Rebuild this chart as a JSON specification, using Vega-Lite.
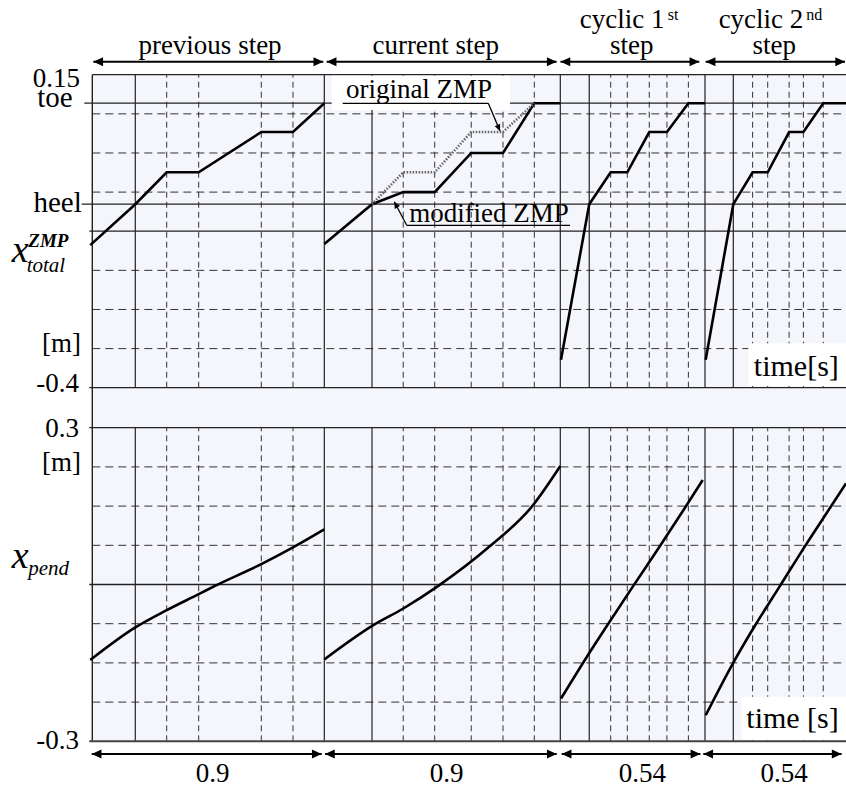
{
  "$schema": "https://vega.github.io/schema/vega-lite/v6.json",
  "width": 846,
  "height": 792,
  "padding": 0,
  "autosize": {"type": "none"},
  "background": "white",
  "config": {"view": {"stroke": null}, "font": "'Liberation Serif', 'Times New Roman', Times, 'DejaVu Serif', serif", "text": {"font": "'Liberation Serif', 'Times New Roman', Times, 'DejaVu Serif', serif"}},
  "datasets": {
    "vSolid": [{"t": 0.1668}, {"t": 0.9}, {"t": 1.082}, {"t": 1.8}, {"t": 1.908}, {"t": 2.34}, {"t": 2.447}],
    "vDashed": [{"t": 0.2886}, {"t": 0.4127}, {"t": 0.6556}, {"t": 0.7785}, {"t": 1.201}, {"t": 1.321}, {"t": 1.4603}, {"t": 1.5815}, {"t": 1.7009}, {"t": 1.988}, {"t": 2.05}, {"t": 2.132}, {"t": 2.198}, {"t": 2.278}, {"t": 2.52}, {"t": 2.577}, {"t": 2.658}, {"t": 2.712}, {"t": 2.787}],
    "topDashed": [{"v": 0.08125}, {"v": 0.0125}, {"v": -0.05625}, {"v": -0.19375}, {"v": -0.2625}, {"v": -0.33125}],
    "topSolid": [{"t": 0, "v": 0.15}, {"t": -0.031, "v": 0.1}, {"t": -0.0411, "v": -0.0775}, {"t": -0.0116, "v": -0.125}, {"t": -0.0116, "v": -0.4}],
    "botDashed": [{"v": 0.225}, {"v": 0.15}, {"v": 0.075}, {"v": -0.075}, {"v": -0.15}, {"v": -0.225}],
    "botSolid": [{"t": -0.0116, "v": 0.3}, {"t": -0.0116, "v": 0}],
    "zmp": [
      {"s": "previous", "t": -0.008, "v": -0.1495}, {"s": "previous", "t": 0.1668, "v": -0.0775}, {"s": "previous", "t": 0.2886, "v": -0.0215}, {"s": "previous", "t": 0.4127, "v": -0.0215}, {"s": "previous", "t": 0.6556, "v": 0.0493}, {"s": "previous", "t": 0.7785, "v": 0.0493}, {"s": "previous", "t": 0.9, "v": 0.1},
      {"s": "current", "t": 0.9, "v": -0.1475}, {"s": "current", "t": 1.082, "v": -0.0775}, {"s": "current", "t": 1.201, "v": -0.05625}, {"s": "current", "t": 1.321, "v": -0.05625}, {"s": "current", "t": 1.4603, "v": 0.0125}, {"s": "current", "t": 1.5815, "v": 0.0125}, {"s": "current", "t": 1.7009, "v": 0.1}, {"s": "current", "t": 1.8, "v": 0.1},
      {"s": "cyclic1", "t": 1.8026, "v": -0.351}, {"s": "cyclic1", "t": 1.908, "v": -0.0775}, {"s": "cyclic1", "t": 1.988, "v": -0.0215}, {"s": "cyclic1", "t": 2.05, "v": -0.0215}, {"s": "cyclic1", "t": 2.132, "v": 0.0493}, {"s": "cyclic1", "t": 2.198, "v": 0.0493}, {"s": "cyclic1", "t": 2.278, "v": 0.1}, {"s": "cyclic1", "t": 2.34, "v": 0.1},
      {"s": "cyclic2", "t": 2.3426, "v": -0.351}, {"s": "cyclic2", "t": 2.447, "v": -0.0775}, {"s": "cyclic2", "t": 2.52, "v": -0.0215}, {"s": "cyclic2", "t": 2.577, "v": -0.0215}, {"s": "cyclic2", "t": 2.658, "v": 0.0493}, {"s": "cyclic2", "t": 2.712, "v": 0.0493}, {"s": "cyclic2", "t": 2.787, "v": 0.1}, {"s": "cyclic2", "t": 2.873, "v": 0.1}
    ],
    "zmpOriginal": [{"t": 1.082, "v": -0.0775}, {"t": 1.201, "v": -0.0215}, {"t": 1.321, "v": -0.0215}, {"t": 1.4603, "v": 0.0493}, {"t": 1.5815, "v": 0.0493}, {"t": 1.7009, "v": 0.1}],
    "pend": [
      {"s": "previous", "t": -0.008, "v": -0.1445}, {"s": "previous", "t": 0.1668, "v": -0.0822}, {"s": "previous", "t": 0.2886, "v": -0.0491}, {"s": "previous", "t": 0.4127, "v": -0.0185}, {"s": "previous", "t": 0.476, "v": -0.0026}, {"s": "previous", "t": 0.6556, "v": 0.039}, {"s": "previous", "t": 0.7785, "v": 0.071}, {"s": "previous", "t": 0.9, "v": 0.1054},
      {"s": "current", "t": 0.9, "v": -0.1435}, {"s": "current", "t": 1.0869, "v": -0.0778}, {"s": "current", "t": 1.2013, "v": -0.0459}, {"s": "current", "t": 1.3348, "v": -0.0026}, {"s": "current", "t": 1.532, "v": 0.0735}, {"s": "current", "t": 1.691, "v": 0.1487}, {"s": "current", "t": 1.8, "v": 0.2267},
      {"s": "cyclic1", "t": 1.8026, "v": -0.2182}, {"s": "cyclic1", "t": 1.9082, "v": -0.131}, {"s": "cyclic1", "t": 1.9791, "v": -0.075}, {"s": "cyclic1", "t": 2.0724, "v": -0.0026}, {"s": "cyclic1", "t": 2.172, "v": 0.0735}, {"s": "cyclic1", "t": 2.2653, "v": 0.147}, {"s": "cyclic1", "t": 2.3313, "v": 0.1998},
      {"s": "cyclic2", "t": 2.3426, "v": -0.2502}, {"s": "cyclic2", "t": 2.441, "v": -0.155}, {"s": "cyclic2", "t": 2.5291, "v": -0.0785}, {"s": "cyclic2", "t": 2.6236, "v": -0.0026}, {"s": "cyclic2", "t": 2.7182, "v": 0.0735}, {"s": "cyclic2", "t": 2.8154, "v": 0.1487}, {"s": "cyclic2", "t": 2.873, "v": 0.1935}
    ],
    "topArrows": [{"t": 0.004, "t2": 0.896, "v": 0.1728}, {"t": 0.909, "t2": 1.786, "v": 0.1728}, {"t": 1.8007, "t2": 2.3187, "v": 0.1728}, {"t": 2.3426, "t2": 2.8695, "v": 0.1728}],
    "botArrows": [{"t": -0.0023, "t2": 0.8898, "v": -0.3243}, {"t": 0.9027, "t2": 1.7863, "v": -0.3243}, {"t": 1.8052, "t2": 2.3228, "v": -0.3243}, {"t": 2.3336, "t2": 2.8563, "v": -0.3243}],
    "leaders": [
      {"t": 0.9702, "t2": 1.5255, "v": 0.0997, "v2": 0.0997},
      {"t": 1.5255, "t2": 1.5701, "v": 0.0997, "v2": 0.0511},
      {"t": 1.2143, "t2": 1.8362, "v": -0.1146, "v2": -0.1146},
      {"t": 1.2143, "t2": 1.167, "v": -0.1146, "v2": -0.0732}
    ],
    "topBoxes": [{"t": 0.9282, "t2": 1.6082, "v": 0.088, "v2": 0.148}, {"t": 2.5038, "t2": 2.873, "v": -0.397, "v2": -0.322}],
    "topText": [
      {"label": "previous step", "t": 0.4566, "v": 0.187, "role": "head"},
      {"label": "current step", "t": 1.325, "v": 0.187, "role": "head"},
      {"label": "step", "t": 2.0664, "v": 0.187, "role": "head"},
      {"label": "step", "t": 2.6017, "v": 0.187, "role": "head"},
      {"label": "cyclic 1", "t": 2.1888, "v": 0.2315, "role": "headR"},
      {"label": "cyclic 2", "t": 2.7118, "v": 0.2315, "role": "headR"},
      {"label": "st", "t": 2.201, "v": 0.2461, "role": "sup"},
      {"label": "nd", "t": 2.7225, "v": 0.2461, "role": "sup"},
      {"label": "0.15", "t": -0.0477, "v": 0.1285, "role": "ylab"},
      {"label": "toe", "t": -0.076, "v": 0.0938, "role": "ylab2"},
      {"label": "heel", "t": -0.0411, "v": -0.0918, "role": "ylab2"},
      {"label": "[m]", "t": -0.0438, "v": -0.3373, "role": "ylab"},
      {"label": "-0.4", "t": -0.0516, "v": -0.407, "role": "ylab"},
      {"label": "original ZMP", "t": 1.2612, "v": 0.1099, "role": "note"},
      {"label": "modified ZMP", "t": 1.5281, "v": -0.1083, "role": "note"},
      {"label": "time[s]", "t": 2.6853, "v": -0.3794, "role": "unit"},
      {"label": "x", "t": -0.3126, "v": -0.1791, "role": "var"},
      {"label": "ZMP", "t": -0.2483, "v": -0.1522, "role": "varsup"},
      {"label": "total", "t": -0.2545, "v": -0.1962, "role": "varsub"}
    ],
    "botText": [
      {"label": "0.3", "t": -0.0516, "v": 0.2828, "role": "ylab"},
      {"label": "[m]", "t": -0.0438, "v": 0.2171, "role": "ylab"},
      {"label": "-0.3", "t": -0.0516, "v": -0.314, "role": "ylab"},
      {"label": "x", "t": -0.3126, "v": 0.0308, "role": "var"},
      {"label": "pend", "t": -0.2483, "v": 0.0179, "role": "varsub"},
      {"label": "0.9", "t": 0.4663, "v": -0.3773, "role": "head"},
      {"label": "0.9", "t": 1.3668, "v": -0.3773, "role": "head"},
      {"label": "0.54", "t": 2.1067, "v": -0.3773, "role": "head"},
      {"label": "0.54", "t": 2.6395, "v": -0.3773, "role": "head"},
      {"label": "time [s]", "t": 2.6709, "v": -0.2751, "role": "unit"}
    ]
  },
  "layer": [
    {
      "layer": [
        {"data": {"values": [{}]}, "mark": {"type": "rect", "fill": "#f5f6fc"},
         "encoding": {
           "x": {"datum": 0, "type": "quantitative", "axis": null, "scale": {"type": "linear", "domain": [-0.358, 0, 0.9, 1.8, 2.34, 2.873], "range": [0, 92.3, 324.3, 560.3, 705, 846], "nice": false, "zero": false}},
           "x2": {"datum": 2.873},
           "y": {"datum": -0.4703, "type": "quantitative", "axis": null, "scale": {"domain": [-1.1104, 0.2813], "range": [792, 0], "nice": false, "zero": false}},
           "y2": {"datum": 0.15}}},
        {"data": {"name": "topDashed"}, "mark": {"type": "rule", "color": "#333", "strokeWidth": 1, "strokeDash": [8, 5]},
         "encoding": {"x": {"datum": 0, "type": "quantitative"}, "x2": {"datum": 2.873}, "y": {"field": "v", "type": "quantitative"}}},
        {"data": {"name": "vDashed"}, "mark": {"type": "rule", "color": "#333", "strokeWidth": 1, "strokeDash": [6, 4]},
         "encoding": {"x": {"field": "t", "type": "quantitative"}, "y": {"datum": -0.4, "type": "quantitative"}, "y2": {"datum": 0.15}}},
        {"data": {"name": "vSolid"}, "mark": {"type": "rule", "color": "#222", "strokeWidth": 1.2},
         "encoding": {"x": {"field": "t", "type": "quantitative"}, "y": {"datum": -0.4, "type": "quantitative"}, "y2": {"datum": 0.15}}},
        {"data": {"name": "topSolid"}, "mark": {"type": "rule", "color": "#222", "strokeWidth": 1.3},
         "encoding": {"x": {"field": "t", "type": "quantitative"}, "x2": {"datum": 2.873}, "y": {"field": "v", "type": "quantitative"}}},
        {"data": {"values": [{}]}, "mark": {"type": "rule", "color": "#222", "strokeWidth": 1.4},
         "encoding": {"x": {"datum": 0, "type": "quantitative"}, "y": {"datum": -0.4703, "type": "quantitative"}, "y2": {"datum": 0.15}}},
        {"data": {"name": "topBoxes"}, "mark": {"type": "rect", "fill": "white"},
         "encoding": {"x": {"field": "t", "type": "quantitative"}, "x2": {"field": "t2"}, "y": {"field": "v", "type": "quantitative"}, "y2": {"field": "v2"}}},
        {"data": {"name": "zmp"}, "mark": {"type": "line", "color": "black", "strokeWidth": 2.6},
         "encoding": {"x": {"field": "t", "type": "quantitative"}, "y": {"field": "v", "type": "quantitative"}, "detail": {"field": "s"}}},
        {"data": {"name": "zmpOriginal"}, "mark": {"type": "line", "color": "#666", "strokeWidth": 2.6, "strokeDash": [1.5, 1.5]},
         "encoding": {"x": {"field": "t", "type": "quantitative"}, "y": {"field": "v", "type": "quantitative"}}},
        {"data": {"name": "leaders"}, "mark": {"type": "rule", "color": "black", "strokeWidth": 1.3},
         "encoding": {"x": {"field": "t", "type": "quantitative"}, "x2": {"field": "t2"}, "y": {"field": "v", "type": "quantitative"}, "y2": {"field": "v2"}}},
        {"data": {"values": [{"t": 1.5701, "v": 0.0511}]}, "mark": {"type": "point", "filled": true, "color": "black", "opacity": 1, "size": 170, "angle": 67, "shape": "M0,0L-1,-0.45L-1,0.45Z"},
         "encoding": {"x": {"field": "t", "type": "quantitative"}, "y": {"field": "v", "type": "quantitative"}}},
        {"data": {"values": [{"t": 1.167, "v": -0.0732}]}, "mark": {"type": "point", "filled": true, "color": "black", "opacity": 1, "size": 170, "angle": 242, "shape": "M0,0L-1,-0.45L-1,0.45Z"},
         "encoding": {"x": {"field": "t", "type": "quantitative"}, "y": {"field": "v", "type": "quantitative"}}},
        {"data": {"name": "topArrows"}, "mark": {"type": "rule", "color": "black", "strokeWidth": 2},
         "encoding": {"x": {"field": "t", "type": "quantitative"}, "x2": {"field": "t2"}, "y": {"field": "v", "type": "quantitative"}}},
        {"data": {"name": "topArrows"}, "transform": [{"fold": ["t", "t2"], "as": ["end", "tt"]}],
         "mark": {"type": "point", "filled": true, "color": "black", "opacity": 1, "size": 380},
         "encoding": {"x": {"field": "tt", "type": "quantitative"}, "y": {"field": "v", "type": "quantitative"},
           "shape": {"field": "end", "type": "nominal", "legend": null, "scale": {"domain": ["t", "t2"], "range": ["M0,0L1,-0.45L1,0.45Z", "M0,0L-1,-0.45L-1,0.45Z"]}}}},
        {"data": {"name": "topText"}, "transform": [{"filter": "datum.role === 'head' || datum.role === 'note'"}],
         "mark": {"type": "text", "fontSize": 27, "align": "center", "baseline": "alphabetic", "color": "black"},
         "encoding": {"x": {"field": "t", "type": "quantitative"}, "y": {"field": "v", "type": "quantitative"}, "text": {"field": "label"}}},
        {"data": {"name": "topText"}, "transform": [{"filter": "datum.role === 'headR' || datum.role === 'ylab'"}],
         "mark": {"type": "text", "fontSize": 27, "align": "right", "baseline": "alphabetic", "color": "black"},
         "encoding": {"x": {"field": "t", "type": "quantitative"}, "y": {"field": "v", "type": "quantitative"}, "text": {"field": "label"}}},
        {"data": {"name": "topText"}, "transform": [{"filter": "datum.role === 'ylab2'"}],
         "mark": {"type": "text", "fontSize": 29, "align": "right", "baseline": "alphabetic", "color": "black"},
         "encoding": {"x": {"field": "t", "type": "quantitative"}, "y": {"field": "v", "type": "quantitative"}, "text": {"field": "label"}}},
        {"data": {"name": "topText"}, "transform": [{"filter": "datum.role === 'sup'"}],
         "mark": {"type": "text", "fontSize": 16, "align": "left", "baseline": "alphabetic", "color": "black"},
         "encoding": {"x": {"field": "t", "type": "quantitative"}, "y": {"field": "v", "type": "quantitative"}, "text": {"field": "label"}}},
        {"data": {"name": "topText"}, "transform": [{"filter": "datum.role === 'unit'"}],
         "mark": {"type": "text", "fontSize": 30, "align": "center", "baseline": "alphabetic", "color": "black"},
         "encoding": {"x": {"field": "t", "type": "quantitative"}, "y": {"field": "v", "type": "quantitative"}, "text": {"field": "label"}}},
        {"data": {"name": "topText"}, "transform": [{"filter": "datum.role === 'var'"}],
         "mark": {"type": "text", "fontSize": 38, "fontStyle": "italic", "align": "left", "baseline": "alphabetic", "color": "black"},
         "encoding": {"x": {"field": "t", "type": "quantitative"}, "y": {"field": "v", "type": "quantitative"}, "text": {"field": "label"}}},
        {"data": {"name": "topText"}, "transform": [{"filter": "datum.role === 'varsub'"}],
         "mark": {"type": "text", "fontSize": 21, "fontStyle": "italic", "align": "left", "baseline": "alphabetic", "color": "black"},
         "encoding": {"x": {"field": "t", "type": "quantitative"}, "y": {"field": "v", "type": "quantitative"}, "text": {"field": "label"}}},
        {"data": {"name": "topText"}, "transform": [{"filter": "datum.role === 'varsup'"}],
         "mark": {"type": "text", "fontSize": 19, "fontStyle": "italic", "fontWeight": "bold", "align": "left", "baseline": "alphabetic", "color": "black"},
         "encoding": {"x": {"field": "t", "type": "quantitative"}, "y": {"field": "v", "type": "quantitative"}, "text": {"field": "label"}}}
      ]
    },
    {
      "layer": [
        {"data": {"values": [{}]}, "mark": {"type": "rect", "fill": "#f5f6fc"},
         "encoding": {
           "x": {"datum": 0, "type": "quantitative"},
           "x2": {"datum": 2.873},
           "y": {"datum": -0.3, "type": "quantitative", "axis": null, "scale": {"domain": [-0.397, 1.1183], "range": [792, 0], "nice": false, "zero": false}},
           "y2": {"datum": 0.3}}},
        {"data": {"name": "botDashed"}, "mark": {"type": "rule", "color": "#333", "strokeWidth": 1, "strokeDash": [8, 5]},
         "encoding": {"x": {"datum": 0, "type": "quantitative"}, "x2": {"datum": 2.873}, "y": {"field": "v", "type": "quantitative"}}},
        {"data": {"name": "vDashed"}, "mark": {"type": "rule", "color": "#333", "strokeWidth": 1, "strokeDash": [6, 4]},
         "encoding": {"x": {"field": "t", "type": "quantitative"}, "y": {"datum": -0.3, "type": "quantitative"}, "y2": {"datum": 0.3}}},
        {"data": {"name": "vSolid"}, "mark": {"type": "rule", "color": "#222", "strokeWidth": 1.2},
         "encoding": {"x": {"field": "t", "type": "quantitative"}, "y": {"datum": -0.3, "type": "quantitative"}, "y2": {"datum": 0.3}}},
        {"data": {"name": "botSolid"}, "mark": {"type": "rule", "color": "#222", "strokeWidth": 1.3},
         "encoding": {"x": {"field": "t", "type": "quantitative"}, "x2": {"datum": 2.873}, "y": {"field": "v", "type": "quantitative"}}},
        {"data": {"values": [{}]}, "mark": {"type": "rule", "color": "#222", "strokeWidth": 1.4},
         "encoding": {"x": {"datum": 0, "type": "quantitative"}, "y": {"datum": -0.3, "type": "quantitative"}, "y2": {"datum": 0.3}}},
        {"data": {"values": [{"t": 2.4788, "t2": 2.873, "v": -0.298, "v2": -0.2146}]}, "mark": {"type": "rect", "fill": "white"},
         "encoding": {"x": {"field": "t", "type": "quantitative"}, "x2": {"field": "t2"}, "y": {"field": "v", "type": "quantitative"}, "y2": {"field": "v2"}}},
        {"data": {"values": [{}]}, "mark": {"type": "rule", "color": "#444", "strokeWidth": 2},
         "encoding": {"x": {"datum": -0.0116, "type": "quantitative"}, "x2": {"datum": 2.873}, "y": {"datum": -0.3, "type": "quantitative"}}},
        {"data": {"name": "pend"}, "mark": {"type": "line", "color": "black", "strokeWidth": 2.6, "interpolate": "monotone"},
         "encoding": {"x": {"field": "t", "type": "quantitative"}, "y": {"field": "v", "type": "quantitative"}, "detail": {"field": "s"}}},
        {"data": {"name": "botArrows"}, "mark": {"type": "rule", "color": "black", "strokeWidth": 2},
         "encoding": {"x": {"field": "t", "type": "quantitative"}, "x2": {"field": "t2"}, "y": {"field": "v", "type": "quantitative"}}},
        {"data": {"name": "botArrows"}, "transform": [{"fold": ["t", "t2"], "as": ["end", "tt"]}],
         "mark": {"type": "point", "filled": true, "color": "black", "opacity": 1, "size": 380},
         "encoding": {"x": {"field": "tt", "type": "quantitative"}, "y": {"field": "v", "type": "quantitative"},
           "shape": {"field": "end", "type": "nominal", "legend": null, "scale": {"domain": ["t", "t2"], "range": ["M0,0L1,-0.45L1,0.45Z", "M0,0L-1,-0.45L-1,0.45Z"]}}}},
        {"data": {"name": "botText"}, "transform": [{"filter": "datum.role === 'head'"}],
         "mark": {"type": "text", "fontSize": 27, "align": "center", "baseline": "alphabetic", "color": "black"},
         "encoding": {"x": {"field": "t", "type": "quantitative"}, "y": {"field": "v", "type": "quantitative"}, "text": {"field": "label"}}},
        {"data": {"name": "botText"}, "transform": [{"filter": "datum.role === 'ylab'"}],
         "mark": {"type": "text", "fontSize": 27, "align": "right", "baseline": "alphabetic", "color": "black"},
         "encoding": {"x": {"field": "t", "type": "quantitative"}, "y": {"field": "v", "type": "quantitative"}, "text": {"field": "label"}}},
        {"data": {"name": "botText"}, "transform": [{"filter": "datum.role === 'unit'"}],
         "mark": {"type": "text", "fontSize": 30, "align": "center", "baseline": "alphabetic", "color": "black"},
         "encoding": {"x": {"field": "t", "type": "quantitative"}, "y": {"field": "v", "type": "quantitative"}, "text": {"field": "label"}}},
        {"data": {"name": "botText"}, "transform": [{"filter": "datum.role === 'var'"}],
         "mark": {"type": "text", "fontSize": 38, "fontStyle": "italic", "align": "left", "baseline": "alphabetic", "color": "black"},
         "encoding": {"x": {"field": "t", "type": "quantitative"}, "y": {"field": "v", "type": "quantitative"}, "text": {"field": "label"}}},
        {"data": {"name": "botText"}, "transform": [{"filter": "datum.role === 'varsub'"}],
         "mark": {"type": "text", "fontSize": 21, "fontStyle": "italic", "align": "left", "baseline": "alphabetic", "color": "black"},
         "encoding": {"x": {"field": "t", "type": "quantitative"}, "y": {"field": "v", "type": "quantitative"}, "text": {"field": "label"}}}
      ]
    }
  ],
  "resolve": {"scale": {"y": "independent"}}
}
